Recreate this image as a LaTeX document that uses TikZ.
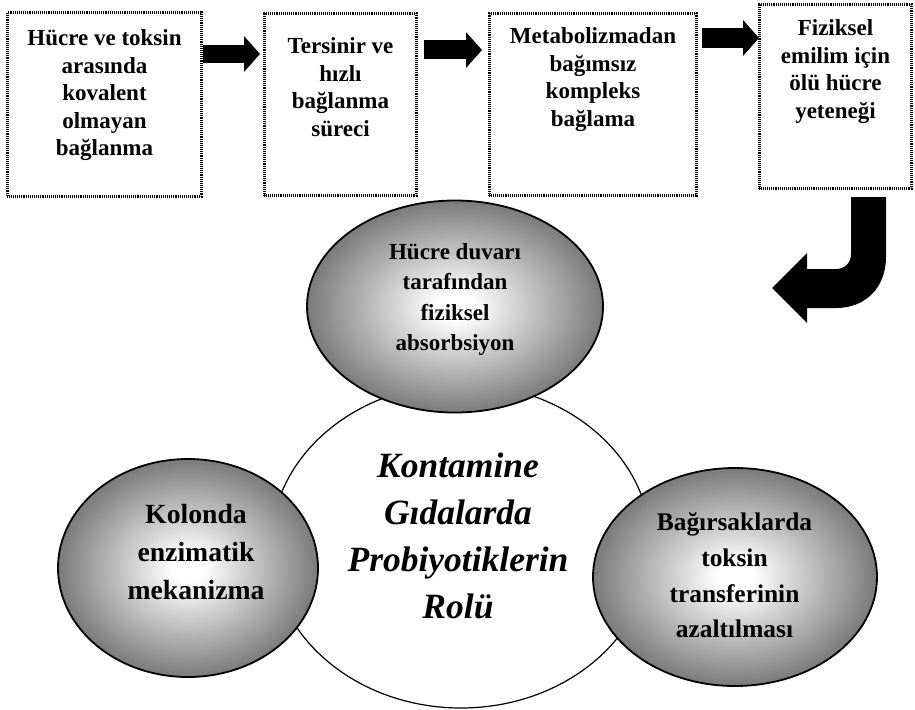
\documentclass[tikz,border=0pt]{standalone}
\usepackage{fontspec}
\setmainfont{Liberation Serif}
\usetikzlibrary{shapes.geometric,arrows.meta}
\pgfdeclareradialshading{ballgray}{\pgfpoint{0bp}{0bp}}{color(0bp)=(white); color(3bp)=(white); color(25bp)=(black!52); color(50bp)=(black!52)}
\begin{document}
\begin{tikzpicture}[x=1pt,y=-1pt,
  box/.style={draw, line width=2.6pt, dash pattern=on 1pt off 0.9pt, fill=white, inner sep=0pt},
  boxtext/.style={align=center, inner sep=0pt, anchor=north, font=\bfseries\fontsize{23}{27.5}\selectfont},
  ball/.style={ellipse, draw, line width=1.8pt, shade, shading=ballgray, inner sep=0pt},
  core/.style={ellipse, draw, line width=1.2pt, fill=white, inner sep=0pt},
  flowarrow/.style={line width=#1, -{Triangle[width=35pt,length=16pt]}},
  bendarrow/.style={fill=black}
]
\useasboundingbox (0,0) rectangle (915,709);

% top row boxes
\node[box, minimum width=194.4, minimum height=184.4] (b1) at (104.5,104.5) {};
\node[box, minimum width=152.4, minimum height=182.4] (b2) at (340.5,104.5) {};
\node[box, minimum width=207.4, minimum height=182.4] (b3) at (593,104.5) {};
\node[box, minimum width=152.4, minimum height=184.4] (b4) at (835.5,96.5) {};

\node[boxtext] (t1) at (104.5,29.4) {Hücre ve toksin\\arasında\\kovalent\\olmayan\\bağlanma};
\node[boxtext] (t2) at (340.5,37.4) {Tersinir ve\\hızlı\\bağlanma\\süreci};
\node[boxtext] (t3) at (593,27.4) {Metabolizmadan\\bağımsız\\kompleks\\bağlama};
\node[boxtext] (t4) at (835.5,19.4) {Fiziksel\\emilim için\\ölü hücre\\yeteneği};

% block arrows between boxes
\draw[flowarrow=18pt, shorten >=3pt] (b1.east |- 0,54) -- (b2.west |- 0,54);
\draw[flowarrow=19pt, shorten <=6pt, shorten >=6pt] (b2.east |- 0,50) -- (b3.west |- 0,50);
\draw[flowarrow=20pt, shorten <=4pt, shorten >=-1pt] (b3.east |- 0,38) -- (b4.west |- 0,38);

% bent arrow
\path[bendarrow] (851,197) -- (886,197) -- (886,257)
  .. controls (886,287) and (866,308) .. (836,308)
  -- (807,308) -- (807,323) -- (772,288) -- (807,253) -- (807,269) -- (836,269)
  .. controls (845,269) and (851,263) .. (851,254) -- cycle;

% central ellipse and the three shaded ellipses
\node[core, minimum width=380, minimum height=324] (c) at (461,546) {};
\node[ball, minimum width=296, minimum height=212] (e1) at (455,306.5) {};
\node[ball, minimum width=260, minimum height=218] (e2) at (188,568) {};
\node[ball, minimum width=284, minimum height=218] (e3) at (735,577) {};

\node[align=center, inner sep=0pt, anchor=north, font=\bfseries\itshape\fontsize{35.5}{47}\selectfont] (ct) at (458,453) {Kontamine\\Gıdalarda\\Probiyotiklerin\\Rolü};
\node[align=center, inner sep=0pt, anchor=north, font=\bfseries\fontsize{23}{30.3}\selectfont] (e1t) at (455,243.4) {Hücre duvarı\\tarafından\\fiziksel\\absorbsiyon};
\node[align=center, inner sep=0pt, anchor=north, font=\bfseries\fontsize{27.7}{38}\selectfont] (e2t) at (196,504.2) {Kolonda\\enzimatik\\mekanizma};
\node[align=center, inner sep=0pt, anchor=north, font=\bfseries\fontsize{25.4}{35.7}\selectfont] (e3t) at (734.5,512.7) {Bağırsaklarda\\toksin\\transferinin\\azaltılması};
\end{tikzpicture}
\end{document}
